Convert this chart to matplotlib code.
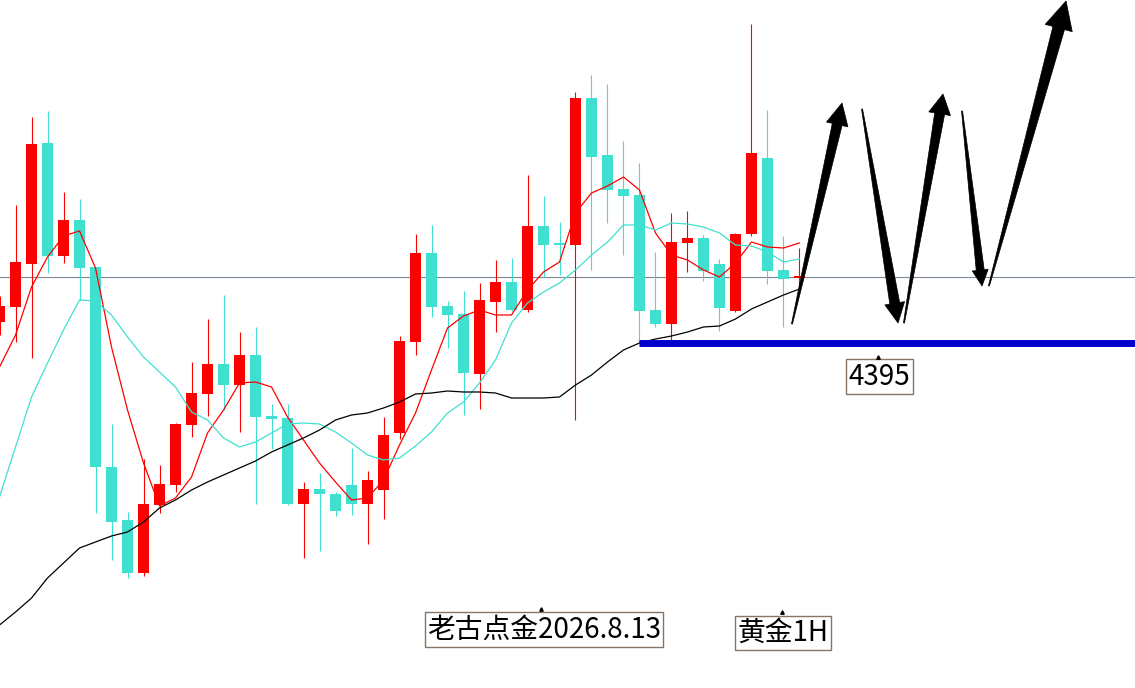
import numpy as np
import matplotlib
matplotlib.use('Agg')
import matplotlib.pyplot as plt
from matplotlib.patches import Polygon
from matplotlib.transforms import IdentityTransform

plt.rcParams['font.family'] = ['Noto Sans CJK SC', 'DejaVu Sans']

# gold 1H candles (open, high, low, close)
opens = [4397.1, 4398.6, 4402.9, 4415.0, 4403.7, 4407.3, 4402.6, 4382.6, 4377.3, 4372.0,
         4378.8, 4380.8, 4386.8, 4389.9, 4392.9, 4390.8, 4393.8, 4387.7, 4387.5, 4378.9,
         4380.4, 4379.9, 4380.8, 4378.9, 4380.3, 4386.0, 4395.1, 4404.0, 4398.7, 4397.9,
         4391.9, 4399.1, 4401.1, 4398.3, 4406.7, 4404.9, 4404.8, 4419.5, 4413.8, 4410.4,
         4409.8, 4398.3, 4396.9, 4405.0, 4405.5, 4402.9, 4398.2, 4405.9, 4413.5, 4402.3,
         4401.5]
highs = [4399.7, 4408.8, 4417.6, 4418.2, 4410.1, 4409.4, 4402.6, 4386.9, 4378.1, 4383.4,
         4382.8, 4387.0, 4393.1, 4397.4, 4399.8, 4396.1, 4396.6, 4388.9, 4388.9, 4381.1,
         4382.0, 4380.1, 4384.5, 4382.2, 4387.6, 4395.7, 4405.9, 4406.8, 4399.2, 4400.2,
         4401.0, 4403.3, 4403.5, 4411.8, 4409.7, 4407.1, 4420.1, 4421.8, 4420.9, 4415.2,
         4413.0, 4404.1, 4408.0, 4408.2, 4405.8, 4403.4, 4406.0, 4426.9, 4418.3, 4405.7,
         4404.5]
lows = [4395.8, 4395.1, 4393.5, 4402.0, 4403.0, 4399.3, 4378.0, 4373.3, 4371.5, 4371.7,
        4378.0, 4380.1, 4385.6, 4387.7, 4388.3, 4386.1, 4378.9, 4384.4, 4378.8, 4373.5,
        4374.2, 4377.7, 4377.8, 4374.9, 4377.4, 4385.4, 4393.8, 4397.6, 4394.5, 4387.8,
        4388.4, 4396.1, 4398.2, 4398.1, 4401.6, 4401.8, 4387.3, 4402.3, 4407.0, 4403.8,
        4395.1, 4396.6, 4395.0, 4402.1, 4401.2, 4396.2, 4398.1, 4405.7, 4400.9, 4396.6,
        4400.6]
closes = [4398.7, 4403.1, 4414.9, 4403.7, 4407.3, 4402.5, 4382.6, 4377.1, 4372.0, 4378.9,
          4380.9, 4386.9, 4390.0, 4392.9, 4390.8, 4393.8, 4387.6, 4387.4, 4378.9, 4380.4,
          4379.9, 4378.2, 4378.9, 4381.3, 4385.8, 4395.2, 4404.0, 4398.6, 4397.8, 4392.0,
          4399.3, 4401.1, 4398.3, 4406.7, 4404.8, 4404.8, 4419.5, 4413.6, 4410.3, 4409.7,
          4398.2, 4396.9, 4405.1, 4405.5, 4402.2, 4398.5, 4405.9, 4414.0, 4402.2, 4401.4,
          4401.7]

# moving averages
ma_fast = [4392.6, 4395.8, 4400.6, 4403.6, 4405.7, 4406.2, 4402.5, 4394.6, 4388.3, 4383.0,
           4378.7, 4379.5, 4381.6, 4386.0, 4388.3, 4391.0, 4391.1, 4390.6, 4387.6, 4385.3,
           4383.0, 4381.1, 4379.3, 4379.5, 4381.3, 4384.8, 4388.0, 4392.3, 4396.5, 4397.7,
           4398.3, 4397.8, 4397.8, 4400.3, 4402.1, 4403.1, 4408.0, 4410.0, 4410.7, 4411.6,
           4410.3, 4406.0, 4403.8, 4403.3, 4402.3, 4401.6, 4403.0, 4405.1, 4404.6, 4404.5,
           4405.0]
ma_mid = [4379.6, 4384.6, 4389.6, 4393.0, 4396.3, 4399.3, 4399.2, 4397.8, 4395.6, 4393.6,
          4392.1, 4390.6, 4388.1, 4387.3, 4385.5, 4384.6, 4385.1, 4386.0, 4386.9, 4387.0,
          4386.9, 4386.1, 4385.0, 4383.8, 4383.3, 4383.5, 4384.7, 4386.1, 4388.0, 4389.1,
          4391.0, 4393.3, 4397.0, 4399.0, 4400.1, 4401.0, 4402.3, 4403.8, 4405.1, 4406.8,
          4406.8, 4406.3, 4407.0, 4406.9, 4406.6, 4406.0, 4404.8, 4404.7, 4404.1, 4403.1,
          4403.4]
ma_slow = [4366.8, 4368.1, 4369.5, 4371.5, 4373.0, 4374.5, 4375.1, 4375.7, 4376.1, 4377.1,
           4378.5, 4379.3, 4380.3, 4381.1, 4381.8, 4382.5, 4383.2, 4384.1, 4384.8, 4385.5,
           4386.3, 4387.3, 4387.8, 4388.0, 4388.5, 4389.1, 4389.9, 4390.0, 4390.2, 4390.1,
           4390.1, 4390.0, 4389.5, 4389.5, 4389.5, 4389.6, 4390.8, 4391.8, 4393.1, 4394.3,
           4395.0, 4395.4, 4395.7, 4396.1, 4396.6, 4396.7, 4397.4, 4398.4, 4399.1, 4399.8,
           4400.4]

bid_price = 4401.6
support_price = 4395
support_start = 40

# forecast arrows: (start index, start price, end index, end price)
arrows = [(49.53, 4396.9, 52.66, 4419.0),
          (53.91, 4418.4, 56.16, 4397.0),
          (56.53, 4397.0, 58.97, 4419.9),
          (60.16, 4418.2, 61.41, 4400.7),
          (61.84, 4400.7, 66.66, 4429.2)]

up_col = '#ff0000'
dn_col = '#40e0d0'

fig = plt.figure(figsize=(11.35, 6.88), dpi=100)
ax = fig.add_axes([0, 0, 1, 1])
ax.set_xlim(0.03, 70.97)
ax.set_ylim(4360.5, 4429.3)
ax.axis('off')

ax.axhline(bid_price, color='#7b8794', lw=0.8, zorder=1)

x = np.arange(len(opens))
o = np.array(opens); c = np.array(closes)
cols = [up_col if cc >= oo else dn_col for oo, cc in zip(o, c)]
ax.vlines(x, lows, highs, colors=cols, lw=0.8, zorder=2)
bottoms = np.minimum(o, c)
heights = np.maximum(np.abs(c - o), 0.25)
ax.bar(x, heights, bottom=bottoms, width=0.69, color=cols, linewidth=0, zorder=3)

ax.plot(x, ma_fast, color='#ff0000', lw=0.9, zorder=4)
ax.plot(x, ma_mid, color='#40e0d0', lw=0.9, zorder=4)
ax.plot(x, ma_slow, color='black', lw=0.9, zorder=4)

ax.plot([support_start, 71], [support_price, support_price], color='#0000cc',
        lw=5, solid_capstyle='butt', zorder=5)

fig.canvas.draw()


def wedge(x0, y0, x1, y1, hl, hw, sw):
    t = ax.transData.transform((x0, y0))
    p = ax.transData.transform((x1, y1))
    d = (p - t) / np.hypot(*(p - t))
    n = np.array([-d[1], d[0]])
    b = p - d * hl
    pts = [t + n * 0.5, b + n * sw, b + n * hw, p, b - n * hw, b - n * sw, t - n * 0.5]
    ax.add_patch(Polygon(pts, closed=True, facecolor='black', edgecolor='black',
                         lw=0.5, transform=IdentityTransform(), zorder=6))


sizes = [(22, 11, 5), (20, 10, 5), (20, 11, 5), (16, 8, 4), (28, 14, 6)]
for (x0, y0, x1, y1), (hl, hw, sw) in zip(arrows, sizes):
    wedge(x0, y0, x1, y1, hl, hw, sw)

box = dict(boxstyle='square,pad=0.08', facecolor='white', edgecolor='#857565', lw=1)
ax.text(55.0, 4391.65, '4395', fontsize=20, ha='center', va='center', bbox=box, zorder=7)
ax.text(34.03, 4366.35, '老古点金2026.8.13', fontsize=20, ha='center', va='center',
        bbox=box, zorder=7)
ax.text(48.97, 4366.0, '黄金1H', fontsize=20, ha='center', va='center', bbox=box, zorder=7)
ax.plot([54.9, 33.84, 48.9], [4393.6, 4368.4, 4368.1], linestyle='none', marker='^',
        ms=2.5, color='black', zorder=8)

fig.savefig('out.png', dpi=100)
